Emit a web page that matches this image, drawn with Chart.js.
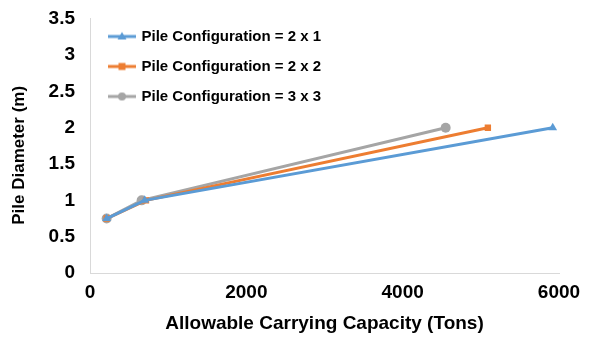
<!DOCTYPE html>
<html>
<head>
<meta charset="utf-8">
<script src="https://cdn.jsdelivr.net/npm/chart.js@4/dist/chart.umd.min.js"></script>
<style>
  html, body { margin: 0; padding: 0; background: #fff; }
  #wrap { width: 593px; height: 337px; }
</style>
</head>
<body>
<div id="wrap"><canvas id="chart" width="593" height="337"></canvas></div>
<script>
// series
var seriesNames = ['Pile Configuration = 2 x 1', 'Pile Configuration = 2 x 2', 'Pile Configuration = 3 x 3'];
var diameter = [0.75, 1, 2];
var capacity2x1 = [213, 700, 5920];
var capacity2x2 = [213, 716, 5090];
var capacity3x3 = [213, 661, 4550];
var xTicks = [0, 2000, 4000, 6000];
var yTicks = [0, 0.5, 1, 1.5, 2, 2.5, 3, 3.5];

var colors = ['#5B9BD5', '#ED7D31', '#A5A5A5'];
var markers = ['triangle', 'rect', 'circle'];
var capacities = [capacity2x1, capacity2x2, capacity3x3];

function pts(xs) {
  return xs.map(function (x, i) { return { x: x, y: diameter[i] }; });
}

// little line + marker picture for the legend, like the spreadsheet one
function legendIcon(color, marker) {
  var c = document.createElement('canvas');
  c.width = 28; c.height = 12;
  var g = c.getContext('2d');
  g.strokeStyle = color;
  g.lineWidth = 3;
  g.beginPath(); g.moveTo(0, 6); g.lineTo(28, 6); g.stroke();
  g.fillStyle = color;
  g.beginPath();
  if (marker == 'triangle') { g.moveTo(14, 1.5); g.lineTo(18.5, 9); g.lineTo(9.5, 9); g.closePath(); }
  else if (marker == 'rect') { g.rect(10.5, 2.5, 7, 7); }
  else { g.arc(14, 6, 4, 0, Math.PI * 2); }
  g.fill();
  return c;
}

var datasets = seriesNames.map(function (name, i) {
  return {
    label: name,
    data: pts(capacities[i]),
    showLine: true,
    borderColor: colors[i],
    backgroundColor: colors[i],
    borderWidth: 3,
    pointStyle: markers[i],
    pointRadius: markers[i] == 'rect' ? 4.5 : 5,
    pointBorderWidth: 0
  };
});

var fam = 'Arial, "Liberation Sans", sans-serif';
var tickFont = { family: fam, size: 19, weight: 'bold' };

// nudge the legend a bit inside the plot, where the original has it
var legendNudge = {
  id: 'legendNudge',
  afterLayout: function (chart) {
    if (chart.legend) { chart.legend.left += 5; chart.legend.top = 14; }
  }
};

new Chart(document.getElementById('chart'), {
  type: 'scatter',
  data: { datasets: datasets },
  plugins: [legendNudge],
  options: {
    responsive: false,
    animation: false,
    layout: { padding: { left: 0, right: 34, top: 0, bottom: 0 } },
    plugins: {
      tooltip: { enabled: false },
      legend: {
        position: 'chartArea',
        align: 'start',
        labels: {
          usePointStyle: true,
          pointStyleWidth: 24,
          boxHeight: 12,
          padding: 15,
          color: '#000',
          font: { family: fam, size: 15, weight: 'bold' },
          generateLabels: function (chart) {
            return chart.data.datasets.map(function (ds, i) {
              return {
                text: ds.label,
                pointStyle: legendIcon(colors[i], markers[i]),
                fillStyle: colors[i],
                strokeStyle: colors[i],
                lineWidth: 0,
                datasetIndex: i
              };
            });
          }
        }
      }
    },
    scales: {
      x: {
        type: 'linear',
        min: 0,
        max: 6000,
        afterBuildTicks: function (s) { s.ticks = xTicks.map(function (v) { return { value: v }; }); },
        afterFit: function (s) { s.height = 64; },
        grid: { display: false, drawTicks: false },
        border: { color: '#D9D9D9', width: 1 },
        ticks: { color: '#000', font: tickFont, padding: 8, maxRotation: 0, callback: function (v) { return String(v); } },
        title: { display: true, text: 'Allowable Carrying Capacity (Tons)', color: '#000', font: { family: fam, size: 19, weight: 'bold' }, padding: { top: 0, bottom: 2 } }
      },
      y: {
        min: 0,
        max: 3.5,
        afterBuildTicks: function (s) { s.ticks = yTicks.map(function (v) { return { value: v }; }); },
        afterFit: function (s) { s.width = 90; },
        grid: { display: false, drawTicks: false },
        border: { color: '#D9D9D9', width: 1 },
        ticks: { color: '#000', font: { family: fam, size: 19, weight: 'bold', lineHeight: 0.4 }, padding: 15, callback: function (v) { return String(v); } },
        title: { display: true, text: 'Pile Diameter (m)    ', color: '#000', font: { family: fam, size: 17, weight: 'bold' }, padding: { top: 9, bottom: 0 } }
      }
    }
  }
});
</script>
</body>
</html>
